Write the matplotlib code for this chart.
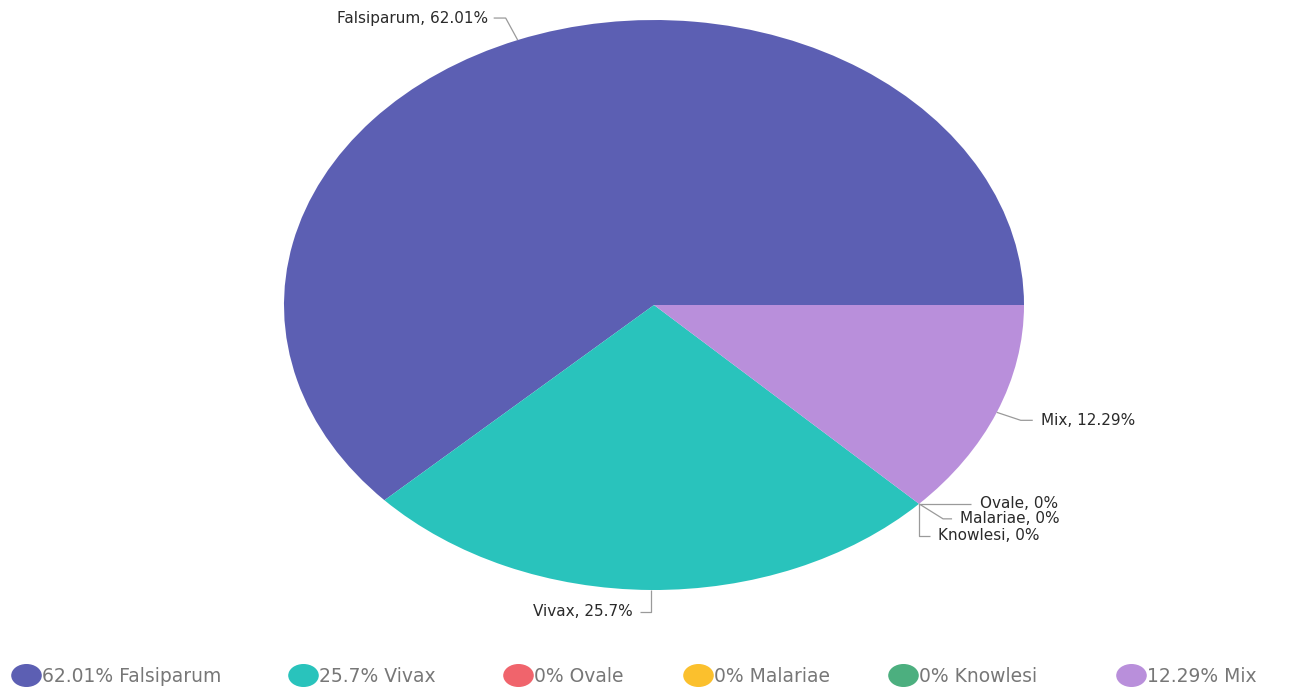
import numpy as np
import matplotlib
matplotlib.use("Agg")
import matplotlib.pyplot as plt
from matplotlib.path import Path
from matplotlib.transforms import Affine2D
from matplotlib.lines import Line2D

# ---- data ----
categories = ["Falsiparum", "Vivax", "Ovale", "Malariae", "Knowlesi", "Mix"]
values = [62.01, 25.7, 0, 0, 0, 12.29]
value_labels = ["62.01%", "25.7%", "0%", "0%", "0%", "12.29%"]
colors = ["#5c5fb3", "#29c3bc", "#f0646c", "#fbc02d", "#4caf7f", "#b98fdb"]

W, H = 1303, 691
CX, CY = 654, 305          # pie centre (pixels, from top-left)
RX, RY = 370, 285          # ellipse radii in pixels

fig = plt.figure(figsize=(W / 100, H / 100), dpi=100)
ax = fig.add_axes([0, 0, 1, 1])
wedges, _ = ax.pie(values, colors=colors, startangle=0, counterclock=True,
                   radius=1, wedgeprops=dict(linewidth=0))
ax.set_aspect("auto")
ax.set_xlim(-CX / RX, (W - CX) / RX)
ax.set_ylim(-(H - CY) / RY, CY / RY)
ax.axis("off")

def d(dx_px, dy_px):
    """pixel offset (image coords, y down) -> data offset"""
    return dx_px / RX, -dy_px / RY

# label layout: (elbow offset from anchor, horizontal run, text gap, side)
layout = {
    "Falsiparum": ((-12, -22), -12, -6, "right"),
    "Vivax": ((0, 22), -11, -7, "right"),
    "Mix": ((24, 8), 12, 8, "left"),
    "Ovale": ((0, 0), 52, 9, "left"),
    "Malariae": ((24, 15), 9, 8, "left"),
    "Knowlesi": ((0, 32), 11, 8, "left"),
}
line_color = "#9a9a9a"
for w, cat, vl in zip(wedges, categories, value_labels):
    ang = np.deg2rad((w.theta1 + w.theta2) / 2)
    ax0, ay0 = np.cos(ang), np.sin(ang)
    (ex, ey), run, gap, side = layout[cat]
    ox, oy = d(ex, ey)
    x1, y1 = ax0 + ox, ay0 + oy
    rx, _ = d(run, 0)
    x2, y2 = x1 + rx, y1
    ax.plot([ax0, x1, x2], [ay0, y1, y2], color=line_color, lw=0.9,
            solid_capstyle="butt")
    gx, _ = d(gap, 0)
    ax.text(x2 + gx, y2, f"{cat}, {vl}", fontsize=11, color="#2a2a2a",
            ha=side, va="center", family="DejaVu Sans")

# legend: one entry per category at reference positions
ell = Path.unit_circle().transformed(Affine2D().scale(1.35, 1.0))
legend_x = [15, 292, 507, 687, 892, 1120]
for cat, vl, col, lx in zip(categories, value_labels, colors, legend_x):
    h = Line2D([], [], linestyle="none", marker=ell, markersize=21,
               markerfacecolor=col, markeredgecolor=col)
    lg = fig.legend([h], [f"{vl} {cat}"], loc="center left",
                    bbox_to_anchor=(lx / W, 1 - 676 / H), frameon=False,
                    fontsize=13.5, borderpad=0, borderaxespad=0,
                    handlelength=1.2, handletextpad=0.25, labelcolor="#777777")

fig.savefig("out.png", dpi=100, facecolor="white")
